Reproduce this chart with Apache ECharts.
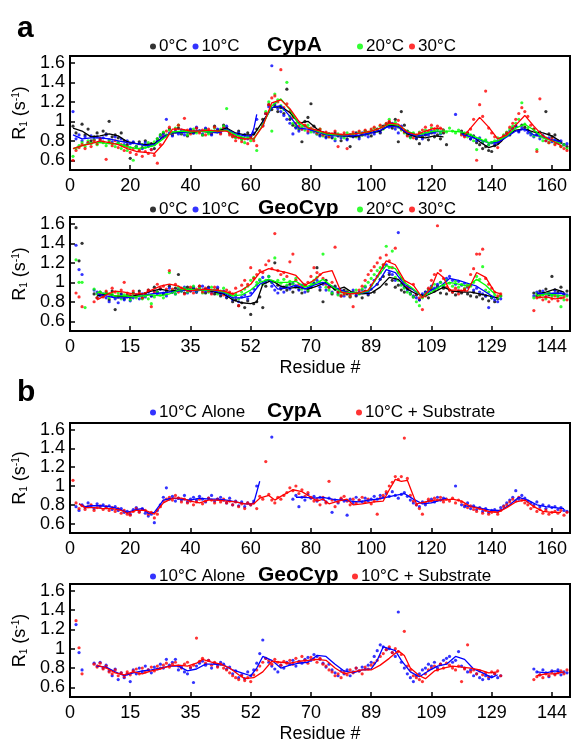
<!DOCTYPE html>
<html><head><meta charset="utf-8">
<script src="https://cdn.jsdelivr.net/npm/echarts@6/dist/echarts.min.js"></script>
<style>html,body{margin:0;padding:0;background:#fff}#c{width:574px;height:744px}</style>
</head><body><div id="c"></div>
<script>
// ---------- tick labels ----------
const yTicks = [0.6, 0.8, 1, 1.2, 1.4, 1.6];
const cypTickLabels = ['0','20','40','60','80','100','120','140','160'];
const geoTickLabels = ['0','15','35','52','70','89','109','129','144'];

// ---------- panel a, CypA : points per residue (index 0 = residue 1) ----------
const a_cyp_0C = [.95,.88,null,.97,.86,.92,.80,.84,.88,.82, .90,.87,1.0,.84,.86,.83,.88,.80,.76,.62, .78,.74,.79,.73,.80,.75,.77,.72,.82,.86,
 .88,.85,.92,.86,.89,.93,.87,.90,.85,.91, .88,.93,.90,.86,.92,.89,.87,.95,.91,.90, .96,.93,.88,.85,.84,.90,.82,.86,.88,.84,
 .87,.92,null,1.02,1.08,1.17,1.12,1.16,1.10,1.14, 1.08,1.33,1.02,.96,.94,.92,.79,1.0,1.04,1.18, .95,.90,.86,.88,.84,.87,.83,.88,.85,.80,
 .86,.82,.74,.85,.88,.84,.86,.90,.87,.85, .89,.92,.88,.95,.97,.99,.93,1.02,.79,1.10, .96,.90,.84,.86,.82,.77,.84,.86,.81,.88,
 .84,.86,.82,.88,.76,null,null,null,null,.90, .86,.88,.82,.85,.78,.76,.72,.74,.70,.69, .75,.78,.80,.84,.88,.86,.93,.95,.90,.96,
 .94,.91,.88,.92,.86,.89,.85,1.10,.87,.84, .86,.80,.78,.76,.74];
const a_cyp_10C = [1.10,.82,.86,.80,.84,.78,.85,.81,.84,.80, .83,.86,.81,.79,.84,.78,.82,.76,.80,.77, .79,.74,.77,.72,.78,.74,.71,.76,.80,.84,
 .86,1.02,.88,.85,.90,.87,.91,.86,.89,.92, .88,.94,.90,.87,.93,.89,.86,.90,.92,.88, .93,.95,.89,.86,.84,.88,.83,.86,.82,.85,
 .88,1.02,null,.96,1.08,1.15,1.57,1.18,1.13,1.10, 1.06,1.02,.98,.87,.93,.90,.92,.95,.88,.91, .89,.87,.85,.88,.83,.86,.84,.80,.86,.83,
 .85,.81,.86,.84,.87,.82,.88,.86,.84,.89, .87,.91,.89,.93,.96,.94,.98,.92,.88,.95, .90,.86,.84,.87,.83,.85,.82,.88,.86,.90,
 .88,.92,.87,.91,null,null,null,1.07,null,.88, .85,.87,.82,.84,.80,.83,.78,.80,.76,.78, .77,.80,.82,.85,.87,.90,.92,.95,.89,.93,
 .91,.88,.86,.84,.87,.82,.85,.80,.83,.79, .81,.78,.80,.76,.77];
const a_cyp_20C = [.64,.72,.75,.78,.74,.80,.77,.81,.76,.79, .78,.75,.80,.77,.74,.78,.72,.75,.70,.73, .60,.74,.71,.76,.73,.78,.75,.79,.82,.86,
 .89,.86,.91,.88,.93,.96,.88,.90,.86,.89, .92,.88,.90,.86,.91,.87,.90,.93,.89,.92, .95,1.13,.88,.85,.83,.86,.81,.78,.84,.80,
 .82,.70,null,.98,1.10,1.20,.90,1.28,1.22,1.16, 1.12,1.40,1.05,.98,.96,.93,.94,.91,.96,.89, .90,.87,.92,.85,.88,.84,.86,.82,.87,.85,
 .83,.88,.85,.87,.84,.89,.86,.90,.88,.91, .93,.90,.95,.92,.97,1.02,.96,.99,.94,.91, .88,.86,.83,.88,.85,.89,.87,.91,.88,.93,
 .90,.92,.88,.91,.89,.93,.90,.88,.91,.87, .88,.84,.86,.80,.71,.82,.79,.81,.76,.78, .80,.83,.82,.86,.89,.92,.95,.98,1.02,1.19,
 .97,.93,.88,.85,.71,.84,.80,.83,.78,.81, .77,.79,.74,.76,.72];
const a_cyp_30C = [.60,.70,.73,.76,.72,.78,.74,.80,.77,.82, .79,.61,.78,.75,.80,.73,.76,.70,.74,.68, .72,.66,.70,.64,.69,.67,.71,.65,.57,.76,
 .84,.90,.94,.88,.92,.96,.89,1.03,.91,.87, .90,.93,.88,.91,.86,.92,.89,.94,.90,.87, .93,.91,.86,.84,.80,.83,.79,.82,.77,.84,
 .80,.75,null,.95,1.08,1.17,1.24,1.26,1.20,1.53, 1.14,1.18,1.10,1.04,.98,.95,.92,.96,.90,.93, .91,.88,.92,.86,.89,.84,.87,.90,.74,.86,
 .88,.72,.86,.89,.85,.90,.87,.91,.89,.92, .94,.91,.96,.93,.98,1.00,.97,.95,1.01,.92, .89,.85,.87,.83,.86,.88,.91,.94,.90,.96,
 .92,.95,.93,.90,null,null,null,null,null,.86, .84,.88,.92,1.02,.60,1.17,1.05,1.31,.93,.88, .84,.73,.80,.85,.88,.94,.98,1.02,1.08,1.14,
 1.10,1.05,.96,.92,.69,1.23,.84,.80,.78,.82, .76,.79,.74,.72,.70];

// ---------- panel a, CypA : smoothed lines [residue, R1] ----------
const a_cyp_0C_fit = [[1,.93],[4,.90],[7,.84],[10,.85],[13,.87],[16,.85],[19,.79],[22,.77],[25,.76],[28,.77],[31,.84],[34,.88],[37,.89],[40,.88],[43,.90],[46,.89],[49,.90],[52,.93],[55,.88],[58,.86],[61,.86],[64,1.0],[67,1.14],[70,1.15],[73,1.09],[76,.98],[79,1.0],[82,.92],[85,.87],[88,.86],[91,.85],[94,.84],[97,.86],[100,.88],[103,.90],[106,.96],[109,.95],[112,.87],[115,.84],[118,.83],[121,.85],[124,.84],[127,null],[130,.88],[133,.86],[136,.79],[139,.73],[142,.76],[145,.85],[148,.91],[151,.92],[154,.89],[157,.88],[160,.85],[163,.79]];
const a_cyp_10C_fit = [[1,.86],[4,.82],[7,.83],[10,.83],[13,.82],[16,.80],[19,.78],[22,.77],[25,.75],[28,.76],[31,.84],[34,.88],[37,.88],[40,.89],[43,.91],[46,.89],[49,.88],[52,.92],[55,.87],[58,.85],[60,.85],[61,.92],[62,1.07],[63,null],[64,.98],[67,1.14],[70,1.16],[73,1.05],[76,.93],[79,.92],[82,.89],[85,.86],[88,.85],[91,.85],[94,.85],[97,.86],[100,.88],[103,.91],[106,.95],[109,.94],[112,.88],[115,.85],[118,.86],[121,.89],[124,.90],[127,null],[130,.87],[133,.84],[136,.81],[139,.78],[142,.78],[145,.84],[148,.90],[151,.92],[154,.86],[157,.84],[160,.81],[163,.79]];
const a_cyp_20C_fit = [[1,.72],[4,.75],[7,.78],[10,.78],[13,.77],[16,.77],[19,.74],[22,.72],[25,.73],[28,.75],[31,.82],[34,.89],[37,.90],[40,.89],[43,.90],[46,.89],[49,.90],[52,.91],[55,.86],[58,.83],[61,.82],[64,.96],[67,1.16],[70,1.23],[73,1.12],[76,.97],[79,.94],[82,.90],[85,.87],[88,.86],[91,.86],[94,.87],[97,.88],[100,.90],[103,.93],[106,.97],[109,.96],[112,.90],[115,.86],[118,.88],[121,.90],[124,.90],[127,.90],[130,.89],[133,.86],[136,.82],[139,.78],[142,.80],[145,.85],[148,.93],[151,.97],[154,.91],[157,.83],[160,.80],[163,.77]];
const a_cyp_30C_fit = [[1,.72],[4,.75],[7,.77],[10,.80],[13,.78],[16,.76],[19,.72],[22,.69],[25,.68],[28,.67],[31,.77],[34,.92],[37,.92],[40,.90],[43,.90],[46,.91],[49,.90],[52,.90],[55,.84],[58,.82],[61,.82],[64,.95],[67,1.19],[70,1.22],[73,1.13],[76,1.0],[79,.93],[82,.91],[85,.88],[88,.87],[91,.86],[94,.87],[97,.88],[100,.90],[103,.93],[106,.98],[109,.97],[112,.89],[115,.86],[118,.90],[121,.93],[124,.92],[127,null],[131,.86],[133,.93],[136,1.04],[139,.94],[142,.82],[145,.86],[148,.96],[151,1.06],[154,.95],[157,.85],[160,.80],[163,.75]];

// ---------- panel a, GeoCyp : points ----------
const a_geo_0C = [null,1.56,1.22,1.40,null,null,null,.88,.84,.90, .86,.89,.82,.91,.72,.85,.88,.83,.87,.84, .89,.86,.91,.84,.88,.92,.86,.95,.90,.93,
 .88,.91,.96,.90,.94,1.08,.92,.89,.95,.91, .94,.90,.96,.92,.89,.95,.91,.88,.93,.86, .90,.84,.87,.80,.82,.76,.79,.74,.81,.67,
 .78,.80,.85,.74,.96,1.02,1.0,1.20,.97,.93, .95,.92,.98,.90,.96,.93,.89,.97,.91,.95, .99,1.15,.92,.80,1.02,.95,.88,.96,.90,.86,
 .92,.88,.85,.90,.86,.89,.84,.91,.87,.93, .90,.98,1.03,1.06,.98,1.08,1.02,.95,.97,.92, .90,.94,.88,.85,.87,.82,.86,.90,.84,.93,
 .91,.96,.89,.94,.88,.92,.90,.87,.91,.89, .92,.88,.86,.90,.85,.87,.83,.86,.81,.84, .80,.83,.86,null,null,null,null,null,null,null,
 null,null,null,.89,.86,.91,.88,.93,.87,1.06, .92,.90,.95,.88,.91];
const a_geo_10C = [null,1.38,1.13,1.08,null,null,null,.92,.90,.86, .88,.84,.80,.86,.83,.79,.87,.82,.85,.81, .84,.87,.83,.88,.85,.90,.86,.91,.88,.93,
 .89,.86,.94,.90,.88,.93,.91,.95,.89,.92, .95,.90,.93,.96,.91,.94,.89,.92,.95,.88, .91,.85,.88,.82,.86,.80,.85,.87,.83,.89,
 .93,.97,1.02,1.05,1.00,1.06,.96,.92,.89,.95, .90,.96,.93,.99,.95,.92,.97,.90,.94,.96, .99,1.02,.95,.98,.92,.96,.90,.93,.88,.91,
 .86,.90,.88,.92,.87,.90,.92,.95,.88,.97, 1.02,1.06,1.10,1.15,1.18,1.10,1.08,1.02,1.51,.98, .95,.92,.89,.86,.84,.82,.88,.90,.93,.96,
 .94,.98,1.00,.96,1.04,1.06,1.02,.98,1.01,.97, .99,.95,.97,.92,.94,.90,.88,.86,.74,.84, .82,.80,.83,null,null,null,null,null,null,null,
 null,null,null,.86,.90,.88,.91,.85,.89,.87, .92,.86,.90,.88,.87];
const a_geo_20C = [null,1.23,1.0,1.0,.74,null,null,.93,.88,.90, .86,.90,.84,.88,.85,.89,.83,.87,.86,.82, .88,.84,.87,.83,.86,.83,.78,.85,.90,.87,
 .84,.89,1.10,.92,.88,.95,.91,.94,.90,.93, .96,.91,.94,.89,.93,.90,.95,.92,.88,.91, .94,.89,.86,.84,.88,.83,.90,.93,.96,1.02,
 1.05,1.0,1.03,.98,1.02,1.06,1.0,1.25,1.02,.99, 1.03,.97,1.01,.98,1.04,.95,.93,.97,.92,.99, 1.02,1.05,1.0,1.29,.95,.92,.89,.93,.87,.90,
 .88,.91,.86,.89,.92,.88,.93,.96,1.0,1.04, 1.08,1.12,1.15,1.18,1.37,1.15,1.32,1.05,1.02,.97, .94,.90,.88,.85,.80,.76,.84,.88,.92,.95,
 .98,.94,1.0,.97,1.02,.99,.96,1.01,.95,.98, .94,.98,.96,1.0,1.06,1.03,1.16,.92,.90,.85, .87,.84,.86,null,null,null,null,null,null,null,
 null,null,null,.84,.88,.85,.87,.83,.89,.86, .88,.85,.75,.82,.86];
const a_geo_30C = [null,.89,.85,.75,null,null,null,.80,.84,.88, .85,.91,.88,.94,.90,.86,.92,1.0,.89,.87, .91,.86,.89,.84,.88,.92,.75,.90,.98,.94,
 .96,.93,1.12,.93,.98,.90,.94,.88,.92,.95, .89,.93,.96,.90,.94,.91,.88,.95,.92,.90, .87,.92,.90,.88,.94,.76,.97,1.02,.98,1.15,
 1.04,1.08,1.12,1.10,1.18,1.22,1.14,1.50,1.12,1.08, 1.10,1.06,1.21,1.29,1.02,.98,.95,.97,1.0,1.06, 1.15,1.10,1.08,1.04,.98,.95,1.0,1.36,.90,.86,
 .88,.90,.86,.75,.89,.92,.96,1.02,1.08,1.12, 1.16,1.20,1.25,1.18,1.28,1.22,1.15,1.35,1.10,1.04, 1.0,.96,.94,.98,.88,.84,.72,.86,.94,1.02,
 1.08,1.58,1.12,1.04,.95,.92,.90,.94,.88,.91, .93,.96,1.08,1.14,1.29,1.29,1.34,1.04,.98,.94, .90,.86,.88,null,null,null,null,null,null,null,
 null,null,null,.71,.84,.86,.82,.85,.80,.83, .86,.81,.84,.85,.82];

// ---------- panel a, GeoCyp : smoothed lines ----------
const a_geo_0C_fit = [[9,.86],[12,.88],[15,.86],[18,.85],[21,.86],[24,.88],[27,.91],[30,.93],[33,.91],[36,.92],[39,.93],[42,.92],[45,.93],[48,.90],[51,.88],[54,.82],[57,.79],[60,.78],[62,.80],[64,.98],[67,1.02],[70,.96],[73,.94],[76,.95],[79,.93],[82,.96],[85,1.0],[88,.92],[91,.95],[94,.89],[97,.88],[100,.89],[103,.95],[106,1.05],[109,1.03],[112,.93],[115,.88],[118,.86],[121,.90],[124,.95],[127,.91],[130,.90],[133,.90],[136,.88],[139,.86],[142,.84],[148,null],[155,.88],[158,.90],[161,.93],[164,.90]];
const a_geo_10C_fit = [[9,.88],[12,.86],[15,.84],[18,.84],[21,.85],[24,.86],[27,.88],[30,.89],[33,.90],[36,.91],[39,.92],[42,.91],[45,.93],[48,.91],[51,.89],[54,.84],[57,.84],[60,.86],[63,.98],[66,1.03],[69,.93],[72,.94],[75,.97],[78,.93],[81,.97],[84,1.0],[87,.96],[90,.92],[93,.89],[96,.89],[99,.90],[102,.98],[105,1.13],[108,1.10],[111,.98],[114,.92],[117,.85],[120,.92],[123,.96],[126,1.04],[129,1.02],[132,.99],[135,.96],[138,.90],[141,.84],[148,null],[155,.89],[158,.88],[161,.89],[164,.88]];
const a_geo_20C_fit = [[9,.90],[12,.88],[15,.86],[18,.86],[21,.85],[24,.86],[27,.87],[30,.86],[33,.88],[36,.92],[39,.93],[42,.92],[45,.92],[48,.92],[51,.90],[54,.86],[57,.87],[60,.92],[63,1.0],[66,1.03],[69,1.0],[72,1.0],[75,1.01],[78,.95],[81,.98],[84,1.03],[87,.96],[90,.90],[93,.89],[96,.89],[99,.91],[102,1.05],[105,1.17],[108,1.14],[111,1.0],[114,.93],[117,.85],[120,.90],[123,.96],[126,1.0],[129,.98],[132,.96],[135,1.03],[138,.97],[141,.88],[148,null],[155,.86],[158,.88],[161,.87],[164,.86]];
const a_geo_30C_fit = [[9,.82],[12,.87],[15,.91],[18,.90],[21,.88],[24,.88],[27,.92],[30,.96],[33,.98],[36,.96],[39,.91],[42,.92],[45,.93],[48,.92],[51,.91],[54,.88],[57,.92],[60,.98],[63,1.10],[66,1.14],[69,1.12],[72,1.10],[75,1.07],[78,.97],[81,1.02],[84,1.10],[87,1.12],[90,.90],[93,.88],[96,.89],[99,.92],[102,1.06],[105,1.22],[108,1.18],[111,1.02],[114,.97],[117,.84],[120,.95],[122,1.10],[124,1.05],[126,.92],[129,.92],[132,.91],[135,1.10],[138,1.05],[141,.90],[143,.88],[148,null],[155,.84],[158,.85],[161,.83],[164,.84]];

// ---------- panel b, CypA : points ----------
const b_cyp_alone = [null,.78,.74,.80,.77,.82,.79,.76,.81,.78, .80,.77,.79,.75,.78,.74,.76,.72,.73,.70, .75,.77,.73,.76,.71,.68,.70,.61,.74,.80,
 .88,.98,.86,.89,.84,.87,.85,.90,.83,.86, .88,.85,.89,.86,.83,.87,.90,.84,.86,.88, .85,.82,.87,.80,.84,.79,.83,.78,.82,.80,
 .84,1.0,null,null,null,null,1.52,null,null,null, null,null,null,.86,.90,.78,.88,.85,.91,.87, .89,.84,.88,.86,.83,.87,.72,.85,.82,.86,
 .84,.69,.86,.82,.88,.85,.83,.87,.84,.86, .89,.86,.90,.88,.92,.89,.94,.90,.87,.91, .93,.89,.85,.82,.80,.78,.83,.80,.84,.86,
 .83,.88,.85,.87,null,null,null,1.0,null,.80, .78,.82,.76,.79,.75,.77,.73,.76,.72,.74, .75,.73,.77,.79,.82,.85,.88,.95,.86,.90,
 .87,.84,.82,.80,.83,.78,.80,.76,.79,.77, .78,.75,.77,.74,.73];
const b_cyp_substrate = [1.06,.82,.76,.79,.75,.78,.80,.74,.77,.79, .75,.78,.74,.77,.73,.76,.71,.74,.70,.69, .73,.76,.72,.75,.74,.70,.72,.66,.70,.78,
 .84,.86,.88,.85,.90,.87,.83,.86,.82,.84, .80,.83,.86,.81,.84,.87,.85,.82,.86,.83, .86,.82,.84,.80,.83,.78,.81,.76,.82,.80,
 .82,.76,.89,.86,1.26,.91,.85,.82,.88,.86, .90,.93,.98,.95,1.0,.92,.96,.89,.93,.88, .84,.86,.80,.88,.82,1.05,.85,.78,.83,.87,
 .89,.84,.80,.86,.82,.85,.88,.83,.86,.81, .84,.70,.87,.90,.94,1.0,1.04,1.10,1.07,1.10, 1.51,1.08,.90,.84,.80,.76,.70,.82,.86,.84,
 .87,.85,.88,.83,.86,.84,.87,.82,.85,.83, .80,.77,.79,.75,.73,.76,.71,.74,.70,.72, .73,.70,.74,.78,.80,.83,.86,.84,.88,.85,
 .82,.80,.76,.78,.73,.75,.71,.74,.70,.72, .73,.71,.74,.69,.72];

// ---------- panel b, CypA : smoothed lines ----------
const b_cyp_alone_fit = [[3,.81],[5,.78],[7,.79],[10,.79],[13,.78],[16,.76],[19,.72],[22,.75],[24,.76],[26,.71],[28,.72],[31,.85],[34,.87],[37,.86],[40,.85],[43,.87],[46,.86],[49,.86],[52,.85],[55,.83],[58,.81],[60,.81],[61,.82],[63,1.05],[64,null],[75,.88],[78,.88],[81,.87],[84,.88],[87,.86],[90,.85],[93,.84],[96,.83],[99,.85],[102,.86],[105,.88],[108,.90],[111,.92],[114,.86],[117,.81],[120,.82],[123,.85],[125,.87],[126,null],[131,.79],[134,.78],[137,.76],[140,.74],[143,.74],[146,.80],[149,.88],[152,.85],[155,.80],[158,.78],[161,.77],[164,.76]];
const b_cyp_substrate_fit = [[3,.81],[5,.77],[8,.77],[11,.76],[14,.76],[17,.74],[19,.71],[22,.74],[25,.74],[28,.70],[31,.82],[34,.87],[37,.87],[40,.84],[43,.82],[46,.85],[49,.85],[52,.84],[55,.83],[58,.81],[61,.81],[63,.87],[66,.90],[68,.85],[70,.89],[74,.96],[77,.94],[80,.88],[82,.84],[84,.86],[86,.81],[89,.84],[92,.86],[94,.80],[97,.81],[101,.83],[104,.84],[106,.96],[108,1.07],[110,1.05],[112,1.06],[115,.81],[118,.83],[121,.85],[124,.85],[127,.86],[130,.84],[133,.78],[136,.76],[139,.73],[142,.72],[145,.77],[148,.83],[151,.85],[154,.78],[157,.73],[160,.72],[163,.72]];

// ---------- panel b, GeoCyp : points ----------
const b_geo_alone = [null,1.25,.96,.78,null,null,null,.85,.82,.86, .80,.83,.77,.72,.79,.68,.75,.70,.74,.66, .78,.74,.80,.76,.82,.78,.75,.81,.79,.84,
 .80,.89,.83,.86,.89,.78,.81,.76,.74,.80, .65,.82,.85,.87,.83,.88,.80,.85,.82,.86, .84,.79,.81,.74,.77,.70,.73,.69,.76,.72,
 .78,.85,.95,1.09,.90,.86,.82,.79,.76,.83, .80,.86,.84,.88,.82,.87,.85,.89,.91,.88, .94,.92,.89,.85,.81,.84,.78,.75,.72,.77,
 .74,.78,.72,.76,.80,.77,.81,.79,.83,.86, .92,.98,1.04,1.02,.99,1.0,.96,.92,1.38,.86, .80,.74,.70,.66,.72,.74,.78,.80,.84,.82,
 .86,.80,.84,.88,.90,.92,.86,.88,.97,.82, .80,.76,.78,.72,.74,.70,.68,.72,.69,.71, .74,.70,.72,null,null,null,null,null,null,null,
 null,null,null,.79,.76,.73,.78,.75,.71,.77, .74,.78,.73,.76,.75];
const b_geo_substrate = [null,1.29,1.01,.74,null,null,null,.84,.81,.85, .79,.82,.76,.74,.78,.72,.75,.71,.76,.73, .77,.79,.74,.80,.76,.78,.81,.77,.82,.80,
 .83,.85,.81,.84,.86,.82,.80,.84,.86,.81, .83,1.11,.87,.90,.85,.88,.83,.86,.81,.84, .80,.78,.75,.72,.70,.68,.72,.67,.70,.66,
 .73,.78,.82,.86,.90,.88,.84,.89,.86,.83, .87,.85,.88,.84,.90,.86,.92,.88,.85,.91, .89,.86,.90,.84,.82,.78,.76,.72,.74,.70,
 .76,.73,.78,.75,.80,.77,.74,.81,.79,.83, .85,.88,.92,.95,.99,1.02,.96,1.0,.97,.94, 1.18,.82,.78,.72,.70,.68,.66,.74,.78,.80,
 .82,.78,.84,.80,.85,.83,.80,.78,.82,.66, .79,1.04,.76,.78,.74,.77,.73,.75,.71,.76, .74,.77,.72,null,null,null,null,null,null,null,
 null,null,null,.68,.71,.73,.70,.74,.72,.76, .73,.75,.77,.74,.78];

// ---------- panel b, GeoCyp : smoothed lines ----------
const b_geo_alone_fit = [[9,.82],[12,.81],[15,.76],[18,.72],[21,.75],[24,.77],[27,.78],[30,.80],[33,.82],[36,.82],[39,.77],[42,.79],[45,.84],[48,.84],[51,.83],[54,.78],[57,.75],[60,.72],[62,.80],[64,.92],[67,.88],[70,.80],[73,.83],[76,.85],[79,.86],[82,.93],[85,.92],[88,.84],[91,.77],[94,.75],[97,.78],[100,.79],[102,.88],[104,1.02],[106,1.0],[108,.98],[110,.88],[113,.76],[116,.71],[119,.77],[122,.82],[125,.84],[128,.92],[131,.89],[134,.79],[137,.75],[140,.70],[142,.73],[148,null],[155,.76],[158,.75],[161,.77],[164,.75]];
const b_geo_substrate_fit = [[9,.83],[12,.80],[15,.75],[18,.73],[21,.76],[24,.74],[27,.77],[30,.79],[33,.82],[36,.83],[39,.82],[42,.85],[44,.89],[47,.86],[50,.84],[53,.80],[56,.73],[58,.69],[61,.70],[64,.76],[67,.87],[70,.86],[73,.85],[76,.87],[79,.88],[82,.89],[85,.88],[88,.80],[91,.74],[94,.76],[97,.78],[100,.78],[103,.83],[106,.90],[109,.98],[111,.93],[113,.80],[116,.72],[118,.69],[121,.77],[124,.80],[127,.82],[130,.81],[133,.80],[136,.78],[139,.75],[142,.76],[148,null],[155,.72],[158,.74],[161,.74],[164,.76]];

// ---------- build ----------
const FONT = "'Liberation Sans', Arial, Helvetica, sans-serif";
const COL = {k:'#000000', b:'#0000ff', g:'#00ff00', r:'#ff0000'};
function pts(arr){ const o=[]; arr.forEach((v,i)=>{ if(v!==null) o.push([i+1,v]); }); return o; }
function fit(arr){ return arr.map(p => [p[0], p[1]===null ? '-' : p[1]]); }

const grids = [
  {left:70, right:4, top:56, height:114},
  {left:70, right:4, top:217, height:114},
  {left:70, right:4, top:423, height:110},
  {left:70, right:4, top:584, height:115}
];
const xAxes = grids.map((g,i)=>({
  type:'value', gridIndex:i, min:0, max:166, interval:20,
  axisLine:{show:true, onZero:false, lineStyle:{color:'#000', width:2}},
  axisTick:{show:true, inside:true, length:5, lineStyle:{color:'#000', width:1.5}},
  axisLabel:{show:true, color:'#000', fontSize:18, fontFamily:FONT, margin:7, showMaxLabel:false,
    formatter:(v)=>{ const k=Math.round(v/20); return (i%2===1) ? (geoTickLabels[k]||'') : (cypTickLabels[k]||''); }},
  splitLine:{show:false},
  name: (i%2===1) ? 'Residue #' : '', nameLocation:'middle', nameGap:28,
  nameTextStyle:{color:'#000', fontSize:18, fontFamily:FONT}
}));
const yAxes = grids.map((g,i)=>({
  type:'value', gridIndex:i, min:0.5, max:1.67,
  axisLine:{show:true, onZero:false, lineStyle:{color:'#000', width:2}},
  axisTick:{show:true, inside:true, length:5, customValues:yTicks, lineStyle:{color:'#000', width:1.5}},
  axisLabel:{show:true, color:'#000', fontSize:18, fontFamily:FONT, margin:5, customValues:yTicks,
    formatter:(v)=> String(Math.round(v*10)/10)},
  splitLine:{show:false},
  name:'{a|R}{s|1}{a| (s}{p|-1}{a|)}', nameLocation:'middle', nameGap:38,
  nameTextStyle:{color:'#000', fontFamily:FONT, rich:{
    a:{fontSize:18, fontFamily:FONT, color:'#000'},
    s:{fontSize:10, fontFamily:FONT, color:'#000', verticalAlign:'bottom', padding:[8,0,0,0]},
    p:{fontSize:10, fontFamily:FONT, color:'#000', verticalAlign:'top', padding:[0,0,8,0]}
  }}
}));

const series = [];
function addPts(name, data, color, gi){
  series.push({type:'scatter', name, xAxisIndex:gi, yAxisIndex:gi, data:pts(data), symbol:'circle', symbolSize:3.2,
    itemStyle:{color}, silent:true, z:2});
}
function addFit(name, data, color, gi){
  series.push({type:'line', name, xAxisIndex:gi, yAxisIndex:gi, data:fit(data), showSymbol:false, symbol:'none',
    lineStyle:{color, width:1.3}, itemStyle:{color}, silent:true, z:3, connectNulls:false});
}
// panel a CypA
addPts('0°C', a_cyp_0C, COL.k, 0); addPts('10°C', a_cyp_10C, COL.b, 0); addPts('20°C', a_cyp_20C, COL.g, 0); addPts('30°C', a_cyp_30C, COL.r, 0);
addFit('0°C fit', a_cyp_0C_fit, COL.k, 0); addFit('10°C fit', a_cyp_10C_fit, COL.b, 0); addFit('20°C fit', a_cyp_20C_fit, COL.g, 0); addFit('30°C fit', a_cyp_30C_fit, COL.r, 0);
// panel a GeoCyp
addPts('0°C', a_geo_0C, COL.k, 1); addPts('10°C', a_geo_10C, COL.b, 1); addPts('20°C', a_geo_20C, COL.g, 1); addPts('30°C', a_geo_30C, COL.r, 1);
addFit('0°C fit', a_geo_0C_fit, COL.k, 1); addFit('10°C fit', a_geo_10C_fit, COL.b, 1); addFit('20°C fit', a_geo_20C_fit, COL.g, 1); addFit('30°C fit', a_geo_30C_fit, COL.r, 1);
// panel b CypA
addPts('10°C Alone', b_cyp_alone, COL.b, 2); addPts('10°C + Substrate', b_cyp_substrate, COL.r, 2);
addFit('Alone fit', b_cyp_alone_fit, COL.b, 2); addFit('Substrate fit', b_cyp_substrate_fit, COL.r, 2);
// panel b GeoCyp
addPts('10°C Alone', b_geo_alone, COL.b, 3); addPts('10°C + Substrate', b_geo_substrate, COL.r, 3);
addFit('Alone fit', b_geo_alone_fit, COL.b, 3); addFit('Substrate fit', b_geo_substrate_fit, COL.r, 3);

function lg(data, left, top){
  return {data, left, top, orient:'horizontal', icon:'circle', itemWidth:6, itemHeight:6, itemGap:5, padding:0,
    selectedMode:false, textStyle:{color:'#000', fontSize:17, fontFamily:FONT, padding:[0,0,0,-2]}};
}
function ttl(text, left, top, size){
  return {text, left, top, padding:0, textStyle:{color:'#000', fontSize:size, fontWeight:'bold', fontFamily:FONT}};
}

const option = {
  animation:false,
  backgroundColor:'#fff',
  title:[ ttl('a',17,14,30), ttl('CypA',267,35,21), ttl('GeoCyp',258,198,21),
          ttl('b',17,378,30), ttl('CypA',267,401,21), ttl('GeoCyp',258,565,21) ],
  legend:[ lg(['0°C','10°C'],150,38), lg(['20°C','30°C'],357,38),
           lg(['0°C','10°C'],150,201), lg(['20°C','30°C'],357,201),
           lg(['10°C Alone'],150,404), lg(['10°C + Substrate'],356,404),
           lg(['10°C Alone'],150,568), lg(['10°C + Substrate'],352,568) ],
  grid: grids.map(g=>Object.assign({show:true, borderColor:'#000', borderWidth:2, backgroundColor:'transparent'}, g)),
  xAxis:xAxes, yAxis:yAxes, series
};
const chart = echarts.init(document.getElementById('c'), null, {renderer:'canvas'});
chart.setOption(option);
</script></body></html>
